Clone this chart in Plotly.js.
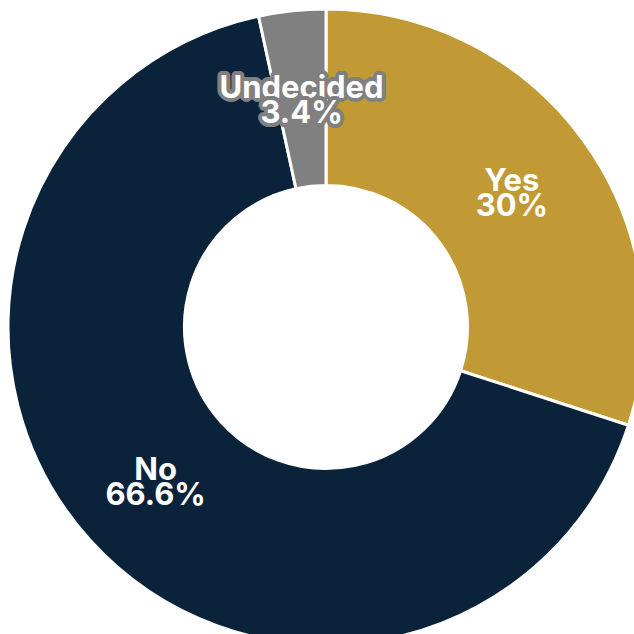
<!DOCTYPE html>
<html>
<head>
<meta charset="utf-8">
<script src="https://cdn.plot.ly/plotly-3.0.1.min.js"></script>
<style>
html, body { margin: 0; padding: 0; overflow: hidden; background: #fff; width: 634px; height: 634px; }
#chart { width: 652px; height: 654px; }
</style>
</head>
<body>
<div id="chart"></div>
<script>
const labels = ["Yes", "No", "Undecided"];
const values = [30, 66.6, 3.4];
const colors = ["#C19A35", "#0B233A", "#808080"];

// outline (text-shadow) for the small grey slice's label
function outline(c, r) {
  const parts = [];
  for (let k = 0; k < 16; k++) {
    const a = k * Math.PI / 8;
    parts.push((r * Math.cos(a)).toFixed(1) + "px " + (r * Math.sin(a)).toFixed(1) + "px 0 " + c);
  }
  return parts.join(", ");
}

const glyphSize = 31;   // glyph size
const lineSize = 19.5;  // controls line spacing (1.3em)
const tmpl = '<span style="font-size:' + glyphSize + 'px">%{label}</span><br><span style="font-size:' + glyphSize + 'px">%{percent}</span>';

const mainTrace = {
  type: "pie",
  labels: labels,
  values: values,
  hole: 0.445,
  sort: false,
  direction: "clockwise",
  rotation: 0,
  texttemplate: [tmpl, tmpl, ""],
  textposition: "inside",
  insidetextorientation: "horizontal",
  textfont: { family: "Inter", size: lineSize, color: "#ffffff", weight: 700 },
  marker: { colors: colors, line: { color: "#ffffff", width: 3 } },
  showlegend: false,
  hoverinfo: "skip"
};

// label layer for the thin slice, placed by the pie's own text positioning
const labelTrace = {
  type: "pie",
  labels: labels,
  values: values,
  sort: false,
  direction: "clockwise",
  rotation: 0,
  domain: { x: [0.1006, 0.8994], y: [0.1019, 0.8981] },
  texttemplate: ["", "", tmpl],
  textposition: "inside",
  insidetextorientation: "horizontal",
  textfont: { family: "Inter", size: lineSize, color: "#ffffff", weight: 700, shadow: outline("#808080", 4) },
  marker: { colors: ["rgba(0,0,0,0)", "rgba(0,0,0,0)", "rgba(0,0,0,0)"], line: { width: 0 } },
  showlegend: false,
  hoverinfo: "skip"
};

const layout = {
  width: 652,
  height: 654,
  margin: { l: 8, r: 8, t: 8, b: 8 },
  paper_bgcolor: "#ffffff",
  showlegend: false,
  uniformtext: { mode: "show", minsize: lineSize }
};

Plotly.newPlot("chart", [mainTrace, labelTrace], layout, { displayModeBar: false, staticPlot: true });
</script>
</body>
</html>
